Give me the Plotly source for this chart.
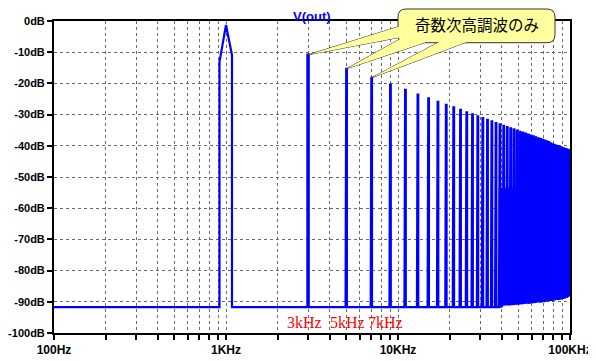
import math
import plotly.graph_objects as go

# ---------------- data ----------------
harmonic_khz = [1, 3, 5, 7, 9, 11, 13, 15, 17, 19, 21, 23, 25, 27, 29, 31, 33, 35, 37, 39,
                41, 43, 45, 47, 49, 51, 53, 55, 57, 59, 61, 63, 65, 67, 69, 71, 73, 75, 77, 79,
                81, 83, 85, 87, 89, 91, 93, 95, 97, 99]

peak_db = [-1.3, -10.8, -15.3, -18.2, -20.4, -22.1, -23.6, -24.8, -25.9, -26.9,
           -27.7, -28.5, -29.3, -29.9, -30.6, -31.1, -31.7, -32.2, -32.7, -33.1,
           -33.6, -34.0, -34.4, -34.7, -35.1, -35.5, -35.8, -36.1, -36.4, -36.7,
           -37.0, -37.3, -37.6, -37.8, -38.1, -38.3, -38.6, -38.8, -39.0, -39.3,
           -39.5, -39.7, -39.9, -40.1, -40.3, -40.5, -40.7, -40.9, -41.0, -41.2]

# level of the lower (left) edge of each spectral lobe
left_edge_db = [-13.1, -10.8, -73.0, -70.0, -56.0, -57.0, -58.0, -58.5, -80.0, -80.0,
                -49.0, -60.0, -80.0, -80.0, -61.0, -80.0, -80.0, -80.0, -62.0, -48.0,
                -54.0, -54.0, -54.0, -54.0, -54.0, -54.0, -54.0, -54.0, -54.0, -54.0,
                -54.0, -54.0, -54.0, -54.0, -54.0, -54.0, -54.0, -54.0, -54.0, -54.0,
                -54.0, -54.0, -54.0, -54.0, -54.0, -54.0, -54.0, -54.0, -54.0, -54.0]

# level of the right edge of each lobe
right_edge_db = [-10.9] + peak_db[1:]

# noise floor around each harmonic
floor_db = [-91.7] * 20 + [
    -90.9, -90.8, -90.8, -90.7, -90.6, -90.5, -90.4, -90.3, -90.3, -90.2,
    -90.1, -90.0, -89.9, -89.9, -89.8, -89.7, -89.6, -89.5, -89.4, -89.4,
    -89.3, -89.2, -89.1, -89.1, -89.0, -88.9, -88.7, -88.6, -88.4, -88.1]

# dense high-frequency region (harmonics 39 kHz .. 99 kHz): top of solid area
dense_first_khz = 39
dense_top_db = [-53.5] * 10 + peak_db[29:]

x_tick_hz = [100, 1000, 10000, 100000]
x_tick_labels = ["100Hz", "1KHz", "10KHz", "100KHz"]
y_tick_db = [0, -10, -20, -30, -40, -50, -60, -70, -80, -90, -100]
y_tick_labels = ["0dB", "-10dB", "-20dB", "-30dB", "-40dB", "-50dB",
                 "-60dB", "-70dB", "-80dB", "-90dB", "-100dB"]
marker_labels = ["3kHz", "5kHz", "7kHz"]
callout_text = "奇数次高調波のみ"
callout_targets_khz = [3, 5, 7]
title_text = "V(out)"

# ---------------- geometry / style ----------------
# window is 596x361; the page body adds an 8px offset
OFF = 8
WIN_W, WIN_H = 596, 361
PL, PR, PT, PB = 54, 570, 21, 333          # plot area in window pixels
W, H = WIN_W - OFF, WIN_H - OFF
ML, MT = PL - OFF, PT - OFF
MR, MB = W - (PR - OFF), H - (PB - OFF)
X_MIN_HZ, X_MAX_HZ = 100, 100000
Y_MIN, Y_MAX = -100, 0
FUND_HALF_HZ = 83.3
LOBE_REL = 0.0087
BLUE = "#0000ff"
YELLOW = "#ffff9e"

PW, PH = PR - PL, PB - PT


def px_to_paper(px, py):
    return (px - PL) / PW, (PB - py) / PH


def data_to_paper(hz, db):
    xp = (math.log10(hz) - math.log10(X_MIN_HZ)) / (math.log10(X_MAX_HZ) - math.log10(X_MIN_HZ))
    yp = (db - Y_MIN) / (Y_MAX - Y_MIN)
    return xp, yp


# ---------------- spectrum line ----------------
xs = [X_MIN_HZ]
ys = [floor_db[0]]
for i, fk in enumerate(harmonic_khz):
    f = fk * 1000.0
    half = FUND_HALF_HZ if i == 0 else f * LOBE_REL
    xs += [f - half, f - half, f, f + half, f + half]
    ys += [floor_db[i], left_edge_db[i], peak_db[i], right_edge_db[i], floor_db[i]]
xs.append(X_MAX_HZ)
ys.append(floor_db[-1])

# ---------------- dense band ----------------
d0 = harmonic_khz.index(dense_first_khz)
dk = harmonic_khz[d0:]
dfl = floor_db[d0:]
bx_top, by_top, bx_bot, by_bot = [], [], [], []
for j, fk in enumerate(dk):
    f0 = fk * 1000.0 * (1 - LOBE_REL)
    f1 = dk[j + 1] * 1000.0 * (1 - LOBE_REL) if j + 1 < len(dk) else X_MAX_HZ
    bx_top += [f0, f1]
    by_top += [dense_top_db[j], dense_top_db[j]]
    bx_bot += [f0, f1]
    by_bot += [dfl[j], dfl[j]]
bx = bx_top + bx_bot[::-1] + [bx_top[0]]
by = by_top + by_bot[::-1] + [by_top[0]]

fig = go.Figure()
fig.add_trace(go.Scatter(x=bx, y=by, mode="lines", fill="toself", fillcolor=BLUE,
                         line=dict(color=BLUE, width=0.5), hoverinfo="skip"))
fig.add_trace(go.Scatter(x=xs, y=ys, mode="lines", line=dict(color=BLUE, width=2.2),
                         hoverinfo="skip"))

# ---------------- axes ----------------
minor_hz = []
for dec in [100, 1000, 10000]:
    for m in range(1, 10):
        minor_hz.append(dec * m)
minor_hz.append(100000)
xt_text = []
for v in minor_hz:
    xt_text.append(x_tick_labels[x_tick_hz.index(v)] if v in x_tick_hz else "")

x_font = dict(family="Liberation Sans, Arial", size=12, color="black", weight="bold")
y_font = dict(family="Liberation Sans, Arial", size=11, color="black", weight="bold")
grid = dict(showgrid=True, gridcolor="#6a6a6a", gridwidth=1, griddash="3px,3px")

fig.update_xaxes(type="log", range=[math.log10(X_MIN_HZ), math.log10(X_MAX_HZ)],
                 tickmode="array", tickvals=minor_hz, ticktext=xt_text,
                 ticks="outside", ticklen=5, tickwidth=2, tickcolor="black",
                 showline=True, linecolor="black", linewidth=2, mirror=True,
                 zeroline=False, tickfont=x_font, automargin=False, **grid)
fig.update_yaxes(range=[Y_MIN, Y_MAX], tickmode="array", tickvals=y_tick_db,
                 ticktext=y_tick_labels, ticks="outside", ticklen=5, tickwidth=2,
                 tickcolor="black", showline=True, linecolor="black", linewidth=2,
                 mirror=True, zeroline=False, tickfont=y_font, automargin=False,
                 **grid)

# ---------------- callout ----------------
shapes = []
wedge_bases_px = [((399, 26.5), (399, 37.5)),
                  ((401, 38.5), (428, 41.5)),
                  ((440, 41.5), (468, 41.5))]
wedge_paths = []
for k, fk in enumerate(callout_targets_khz):
    i = harmonic_khz.index(fk)
    f = fk * 1000.0
    tx, ty = data_to_paper(f * (1 + LOBE_REL / 2), peak_db[i])
    (ax, ay), (bx_, by_) = wedge_bases_px[k]
    p1 = px_to_paper(ax, ay)
    p2 = px_to_paper(bx_, by_)
    wedge_paths.append(f"M {tx},{ty} L {p1[0]},{p1[1]} L {p2[0]},{p2[1]} Z")

for p in wedge_paths:
    shapes.append(dict(type="path", xref="paper", yref="paper", path=p,
                       fillcolor=YELLOW, line=dict(color="#333333", width=1)))

bx0, by0, bx1, by1, r = 398, 9, 555, 42.7, 8
x0, yt = px_to_paper(bx0, by0)
x1, yb = px_to_paper(bx1, by1)
rx = r / PW
ry = r / PH
box_path = (f"M {x0+rx},{yt} L {x1-rx},{yt} Q {x1},{yt} {x1},{yt-ry} "
            f"L {x1},{yb+ry} Q {x1},{yb} {x1-rx},{yb} L {x0+rx},{yb} "
            f"Q {x0},{yb} {x0},{yb+ry} L {x0},{yt-ry} Q {x0},{yt} {x0+rx},{yt} Z")
shapes.append(dict(type="path", xref="paper", yref="paper", path=box_path,
                   fillcolor=YELLOW, line=dict(color="#333333", width=1)))
for p in wedge_paths:
    shapes.append(dict(type="path", xref="paper", yref="paper", path=p,
                       fillcolor=YELLOW, line=dict(width=0)))

annotations = []
cx, cy = px_to_paper((bx0 + bx1) / 2, 24.5)
annotations.append(dict(x=cx, y=cy, xref="paper", yref="paper", text=callout_text,
                        showarrow=False, xanchor="center", yanchor="middle",
                        font=dict(family="Noto Sans CJK JP", size=15.5, color="black")))
tx, ty = px_to_paper(311.5, OFF)
annotations.append(dict(x=tx, y=ty, xref="paper", yref="paper", text=title_text,
                        showarrow=False, xanchor="center", yanchor="top", borderpad=0,
                        font=dict(family="Liberation Sans, Arial", size=13, color=BLUE,
                                  weight="bold")))
label_centers_px = [304.2, 347.8, 385.8]
for lab, lx in zip(marker_labels, label_centers_px):
    ax_, ay_ = px_to_paper(lx, 322.5)
    annotations.append(dict(x=ax_, y=ay_, xref="paper", yref="paper", text=lab,
                            showarrow=False, xanchor="center", yanchor="middle",
                            font=dict(family="Liberation Serif, Times New Roman", size=16,
                                      color="#ff0000")))

fig.update_layout(width=W, height=H, autosize=False,
                  margin=dict(l=ML, r=MR, t=MT, b=MB, pad=0),
                  paper_bgcolor="white", plot_bgcolor="white",
                  showlegend=False, shapes=shapes, annotations=annotations)

fig.write_html("out.html")
